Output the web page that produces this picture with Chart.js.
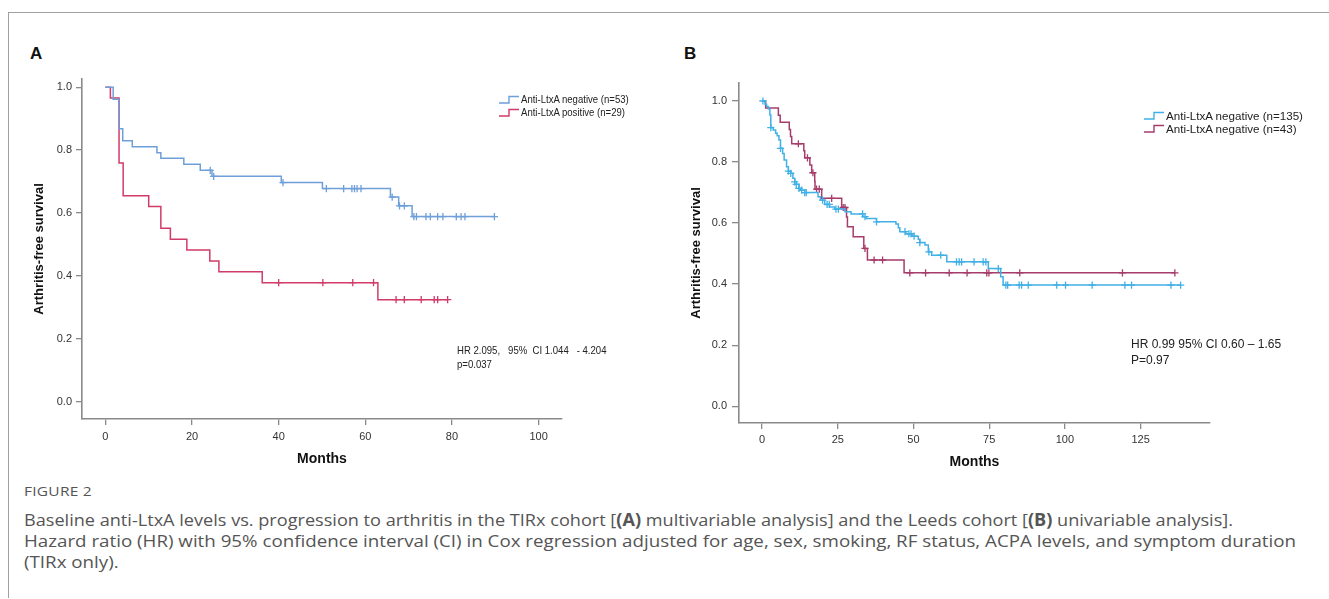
<!DOCTYPE html>
<html><head><meta charset="utf-8">
<script src="https://cdn.jsdelivr.net/npm/chart.js@4.4.1/dist/chart.umd.min.js"></script>
<style>
html,body{margin:0;padding:0;background:#fff;width:1329px;height:599px;overflow:hidden;font-family:"Liberation Sans",Arial,sans-serif;}
#frame{position:absolute;left:8px;top:12px;width:1330px;height:585px;border-left:1px solid #a0a0a0;border-top:1px solid #a0a0a0;}
.cv{position:absolute;}
.panel{position:absolute;font-weight:bold;font-size:17px;color:#111;line-height:17px;}
.leg{position:absolute;white-space:nowrap;color:#222;transform-origin:0 50%;}
.leg svg{position:absolute;left:0;top:0;}
.leg span{position:absolute;top:0;line-height:13px;}
.note{position:absolute;white-space:nowrap;color:#222;transform-origin:0 0;}
.cap{position:absolute;left:24px;white-space:nowrap;color:#555;font-family:"Open Sans","Liberation Sans",sans-serif;transform-origin:0 0;}
</style></head>
<body>
<div id="frame"></div>
<div class="panel" style="left:30px;top:45px;">A</div>
<div class="panel" style="left:684px;top:45px;">B</div>
<canvas id="cA" class="cv" style="left:20px;top:60px;" width="560" height="420"></canvas>
<canvas id="cB" class="cv" style="left:680px;top:60px;" width="550" height="420"></canvas>
<div id="legA"></div>
<div id="legB"></div>
<div class="note" style="left:457px;top:343px;font-size:11px;line-height:14px;transform:scaleX(0.87);">HR 2.095,&nbsp;&nbsp; 95%&nbsp; CI 1.044&nbsp;&nbsp; - 4.204<br>p=0.037</div>
<div class="note" style="left:1131px;top:337px;font-size:12px;line-height:15.5px;">HR 0.99 95% CI 0.60 – 1.65<br>P=0.97</div>
<div class="cap" id="fig" style="top:483px;font-size:12.5px;letter-spacing:0.2px;">FIGURE 2</div>
<div class="cap capl" data-w="1209" style="top:508px;font-size:17px;">Baseline anti-LtxA levels vs. progression to arthritis in the TIRx cohort [<b>(A)</b> multivariable analysis] and the Leeds cohort [<b>(B)</b> univariable analysis].</div>
<div class="cap capl" data-w="1272" style="top:529px;font-size:17px;">Hazard ratio (HR) with 95% confidence interval (CI) in Cox regression adjusted for age, sex, smoking, RF status, ACPA levels, and symptom duration</div>
<div class="cap capl" style="top:550px;font-size:17px;">(TIRx only).</div>
<script>
// ---------- data ----------
const survTicks = [0, 0.2, 0.4, 0.6, 0.8, 1.0];
const monthTicksA = [0, 20, 40, 60, 80, 100];
const monthTicksB = [0, 25, 50, 75, 100, 125];

const labelsA = ["Anti-LtxA negative (n=53)", "Anti-LtxA positive (n=29)"];
const labelsB = ["Anti-LtxA negative (n=135)", "Anti-LtxA negative (n=43)"];

// Panel A, anti-LtxA negative
const negA_t = [0, 1.8, 3.1, 4.0, 6.2, 11.9, 12.8, 18.1, 21.9, 24.6, 40.6, 50.1, 65.8, 67.7, 70.8];
const negA_s = [1.0, 0.962, 0.868, 0.830, 0.811, 0.792, 0.774, 0.755, 0.736, 0.717, 0.697, 0.678, 0.651, 0.623, 0.589];
const negA_c = [24.2, 25.0, 41.0, 51.0, 55.0, 56.9, 57.5, 58.1, 59.0, 66.2, 67.9, 69.0, 71.2, 71.8, 74.0, 75.0, 76.7, 77.9, 81.0, 82.1, 83.0, 89.8];
// Panel A, anti-LtxA positive
const posA_t = [0, 1.15, 3.15, 4.1, 10.0, 12.8, 15.0, 18.8, 24.1, 26.2, 36.2, 62.9];
const posA_s = [1.0, 0.966, 0.759, 0.655, 0.621, 0.552, 0.517, 0.483, 0.448, 0.414, 0.379, 0.325];
const posA_c = [40.0, 50.2, 57.1, 61.9, 67.1, 69.0, 72.9, 75.9, 76.7, 79.0];

// Panel B, n=135
const negB_t = [0, 1.0, 1.5, 2.1, 2.6, 2.9, 3.7, 4.5, 5.0, 5.6, 6.1, 6.8, 7.3, 8.1, 8.7, 9.5, 10.2, 10.8, 11.3, 12.2, 12.7, 14.1, 18.5, 19.3, 20.7, 22.3, 24.0, 27.4, 29.4, 33.3, 34.4, 37.8, 44.2, 45.0, 45.5, 47.5, 49.5, 51.6, 52.1, 53.8, 54.9, 56.0, 61.0, 74.7, 78.8, 79.6];
const negB_s = [1.0, 0.989, 0.982, 0.974, 0.954, 0.913, 0.905, 0.894, 0.886, 0.872, 0.845, 0.828, 0.807, 0.785, 0.770, 0.763, 0.747, 0.735, 0.727, 0.714, 0.708, 0.700, 0.686, 0.675, 0.661, 0.653, 0.646, 0.637, 0.630, 0.621, 0.615, 0.604, 0.597, 0.585, 0.572, 0.565, 0.557, 0.547, 0.536, 0.528, 0.506, 0.495, 0.473, 0.451, 0.424, 0.397];
const negB_c = [0.3, 2.9, 6.1, 8.7, 9.5, 10.8, 11.3, 12.2, 13.1, 14.1, 14.6, 20.0, 21.5, 22.2, 24.4, 25.2, 33.2, 34.0, 37.8, 47.2, 48.5, 49.2, 50.2, 52.1, 55.1, 59.0, 64.2, 65.1, 65.9, 70.0, 73.0, 73.9, 78.0, 80.5, 81.1, 84.9, 85.7, 87.9, 97.3, 100.2, 109.0, 119.8, 122.0, 135.0, 138.2];
// Panel B, n=43
const neg2B_t = [0, 1.2, 5.4, 6.0, 9.0, 9.4, 9.8, 13.8, 14.1, 15.8, 16.4, 17.4, 17.5, 19.7, 26.3, 27.9, 28.2, 30.1, 33.6, 34.8, 46.9];
const neg2B_s = [1.0, 0.977, 0.953, 0.930, 0.907, 0.884, 0.860, 0.837, 0.814, 0.790, 0.765, 0.737, 0.711, 0.681, 0.651, 0.620, 0.588, 0.555, 0.517, 0.479, 0.437];
const neg2B_c = [12.0, 15.0, 16.8, 18.0, 18.9, 23.0, 26.8, 27.4, 34.0, 37.0, 39.8, 48.8, 54.0, 61.8, 67.7, 74.2, 74.9, 85.1, 119.0, 136.3];

const colorsA = ["#6f9fd8", "#d13b68"];
const colorsB = ["#41b0e6", "#a63c6b"];

// ---------- helpers ----------
function levelAt(t, ts, ss) {
  let v = ss[0];
  for (let i = 0; i < ts.length; i++) { if (ts[i] <= t) v = ss[i]; }
  return v;
}
function stepData(ts, ss, cens) {
  const d = ts.map((t, i) => ({x: t, y: ss[i]}));
  const last = Math.max(...cens);
  if (last > ts[ts.length - 1]) d.push({x: last, y: ss[ss.length - 1]});
  return d;
}
function censData(ts, ss, cens) {
  return cens.map(c => ({x: c, y: levelAt(c, ts, ss)}));
}
function series(ts, ss, cens, color, label) {
  return [
    {label: label, type: 'line', data: stepData(ts, ss, cens), stepped: 'before', borderColor: color, borderWidth: 1.5, pointRadius: 0, fill: false, tension: 0},
    {label: label + ' censored', type: 'scatter', data: censData(ts, ss, cens), pointStyle: 'cross', pointRadius: 3.6, borderColor: color, borderWidth: 1.3, backgroundColor: color}
  ];
}

function makeChart(id, cfg) {
  const axisColor = '#8a8a8a';
  const tickFont = {family: "'Liberation Sans', Arial, sans-serif", size: 11};
  return new Chart(document.getElementById(id), {
    type: 'line',
    data: {datasets: cfg.datasets},
    options: {
      responsive: false, animation: false, events: [],
      layout: {padding: {left: 0, top: cfg.padTop, right: cfg.padRight, bottom: 0}},
      plugins: {legend: {display: false}, tooltip: {enabled: false}},
      scales: {
        x: {
          type: 'linear', min: cfg.xmin, max: cfg.xmax,
          afterBuildTicks: s => { s.ticks = cfg.xTicks.map(v => ({value: v})); },
          afterFit: s => { s.height = cfg.xH; },
          grid: {display: true, drawOnChartArea: false, drawTicks: true, tickLength: 6, color: axisColor, lineWidth: 1.3},
          border: {display: true, color: axisColor, width: 1.6},
          ticks: {autoSkip: false, maxRotation: 0, padding: cfg.xTickPad, color: '#333', font: tickFont, callback: v => String(v)},
          title: {display: true, text: 'Months', color: '#111', font: {family: "'Liberation Sans', Arial, sans-serif", size: 14, weight: 'bold'}, padding: {top: 0, bottom: cfg.xTitlePad}}
        },
        y: {
          type: 'linear', min: cfg.ymin, max: cfg.ymax,
          afterBuildTicks: s => { s.ticks = survTicks.map(v => ({value: v})); },
          afterFit: s => { s.width = cfg.yW; },
          grid: {display: true, drawOnChartArea: false, drawTicks: true, tickLength: cfg.yTickLen, color: axisColor, lineWidth: 1.3},
          border: {display: true, color: axisColor, width: 1.6},
          ticks: {autoSkip: false, padding: cfg.yTickPad, color: '#333', font: tickFont, callback: v => Number(v).toFixed(1)},
          title: {display: true, text: 'Arthritis-free survival', color: '#111', font: {family: "'Liberation Sans', Arial, sans-serif", size: 13, weight: 'bold'}, padding: {top: cfg.yTitlePad, bottom: 0}}
        }
      }
    }
  });
}

makeChart('cA', {
  datasets: [...series(negA_t, negA_s, negA_c, colorsA[0], labelsA[0]), ...series(posA_t, posA_s, posA_c, colorsA[1], labelsA[1])],
  xmin: -5.4, xmax: 105.4, ymin: -0.054, ymax: 1.026, xTicks: monthTicksA,
  padTop: 19, padRight: 18, xH: 61, yW: 62, xTickPad: 5, xTitlePad: 12, yTickLen: 6, yTickPad: 4, yTitlePad: 12
});
makeChart('cB', {
  datasets: [...series(negB_t, negB_s, negB_c, colorsB[0], labelsB[0]), ...series(neg2B_t, neg2B_s, neg2B_c, colorsB[1], labelsB[1])],
  xmin: -7.6, xmax: 147.9, ymin: -0.055, ymax: 1.059, xTicks: monthTicksB,
  padTop: 23, padRight: 20, xH: 57, yW: 59, xTickPad: 4, xTitlePad: 9, yTickLen: 7, yTickPad: 5, yTitlePad: 9
});

// ---------- legends ----------
function legend(el, x, y, labels, colors, fontSize, sx) {
  let html = '';
  labels.forEach((lab, i) => {
    html += `<div class="leg" style="left:${x}px;top:${y + i * 13}px;height:13px;">` +
      `<svg width="21" height="13"><path d="M0 10 H10 V3.5 H20" fill="none" stroke="${colors[i]}" stroke-width="1.4"/></svg>` +
      `<span style="left:22px;font-size:${fontSize}px;display:inline-block;transform:scaleX(${sx});transform-origin:0 0;">${lab}</span></div>`;
  });
  el.innerHTML = html;
}
legend(document.getElementById('legA'), 499, 93, labelsA, colorsA, 11, 0.87);
legend(document.getElementById('legB'), 1144, 109, labelsB, colorsB, 11.6, 1.0);

// ---------- caption width fit ----------
(function () {
  const lines = document.querySelectorAll('.capl');
  const w2 = lines[1].getBoundingClientRect().width;
  const k2 = 1272 / w2;
  lines.forEach(l => {
    const target = l.dataset.w ? +l.dataset.w : null;
    const k = target ? target / l.getBoundingClientRect().width : k2;
    l.style.transform = `scaleX(${k})`;
  });
  const f = document.getElementById('fig');
  const fw = f.getBoundingClientRect().width;
  f.style.transform = `scaleX(${68 / fw})`;
})();
</script>
</body></html>
